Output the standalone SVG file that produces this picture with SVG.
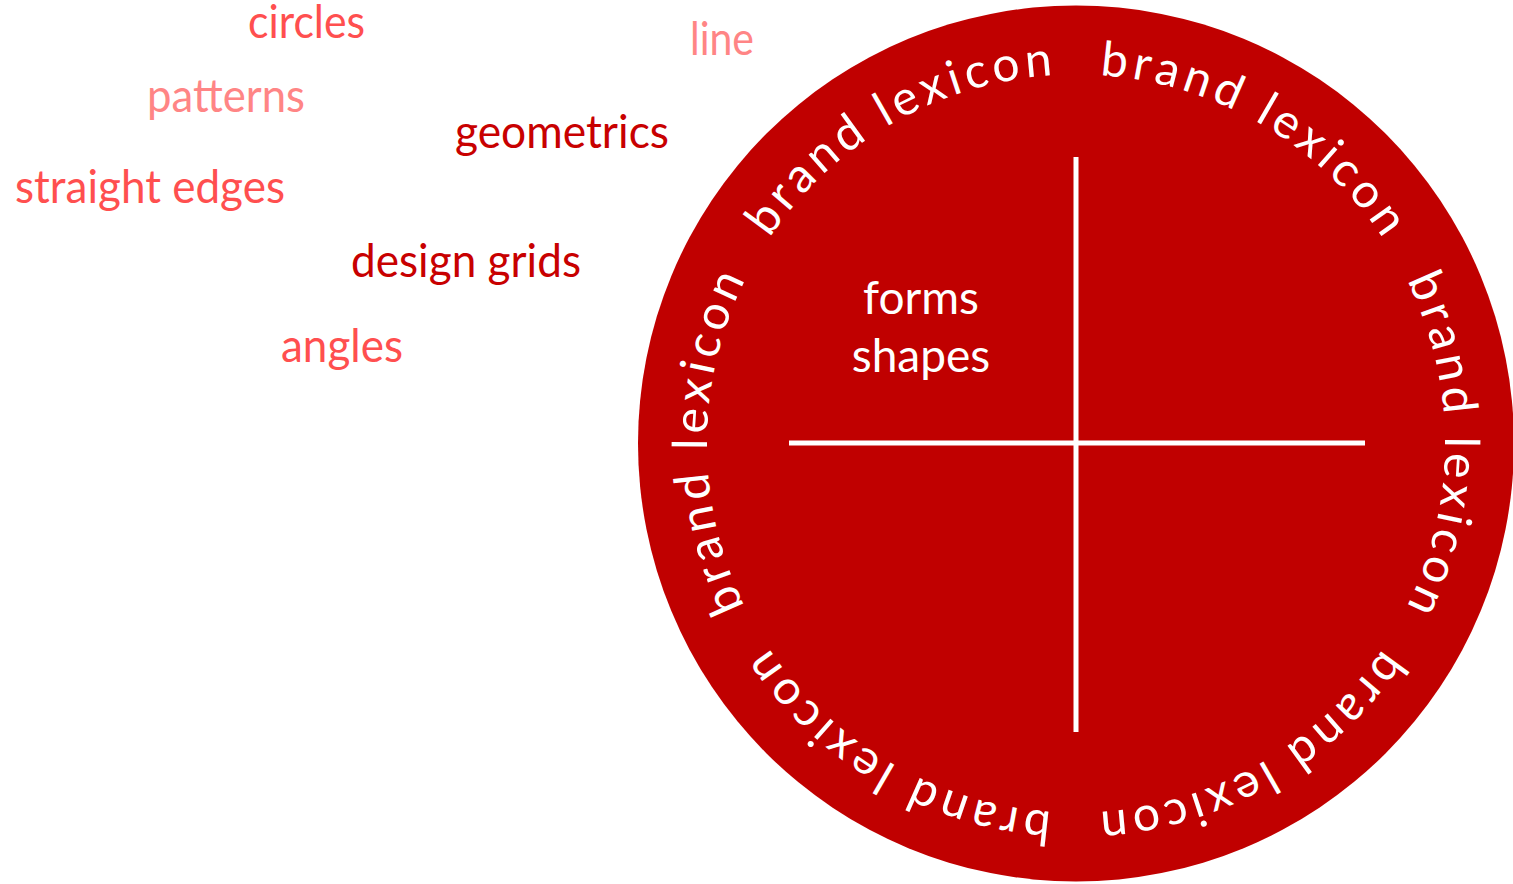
<svg xmlns="http://www.w3.org/2000/svg" xmlns:xlink="http://www.w3.org/1999/xlink" width="1513" height="884" viewBox="0 0 1513 884">
<style>
.w{font-family:Lato,"Open Sans","Liberation Sans",sans-serif;font-size:47px}
.c1{fill:#FF4F4F}
.c2{fill:#FF8585}
.c3{fill:#C80000}
.ring{font-family:Lato,"Noto Sans","DejaVu Sans",sans-serif;font-size:48px;fill:#FFFFFF;letter-spacing:4.7px}
.inner{font-family:Lato,"Open Sans","Liberation Sans",sans-serif;font-size:46px;fill:#FFFFFF;text-anchor:middle}
.bar{stroke:#FFFFFF;stroke-width:5;fill:none}
</style>
<defs>
<path id="ringPath" d="M 1076 74.5 A 369 369 0 1 1 1076 812.5 A 369 369 0 1 1 1076 74.5"/>
</defs>
<rect width="1513" height="884" fill="#FFFFFF"/>
<g id="words">
<text id="t-circles" class="w c1" x="248" y="38" textLength="117" lengthAdjust="spacingAndGlyphs">circles</text>
<text id="t-line" class="w c2" x="690" y="55" textLength="64" lengthAdjust="spacingAndGlyphs">line</text>
<text id="t-patterns" class="w c2" x="147" y="112" textLength="158" lengthAdjust="spacingAndGlyphs">patterns</text>
<text id="t-geometrics" class="w c3" x="455" y="148" textLength="214" lengthAdjust="spacingAndGlyphs">geometrics</text>
<text id="t-straight" class="w c1" x="15" y="203" textLength="270" lengthAdjust="spacingAndGlyphs">straight edges</text>
<text id="t-design" class="w c3" x="351" y="277" textLength="230" lengthAdjust="spacingAndGlyphs">design grids</text>
<text id="t-angles" class="w c1" x="281" y="362" textLength="122" lengthAdjust="spacingAndGlyphs">angles</text>
</g>
<g id="wheel">
<circle cx="1076" cy="443.5" r="438" fill="#C00000"/>
<g id="ring-text" class="ring" text-anchor="middle">
<text><textPath xlink:href="#ringPath" href="#ringPath" startOffset="195.5">brand lexicon</textPath></text>
<text><textPath xlink:href="#ringPath" href="#ringPath" startOffset="581.9">brand lexicon</textPath></text>
<text><textPath xlink:href="#ringPath" href="#ringPath" startOffset="968.3">brand lexicon</textPath></text>
<text><textPath xlink:href="#ringPath" href="#ringPath" startOffset="1354.8">brand lexicon</textPath></text>
<text><textPath xlink:href="#ringPath" href="#ringPath" startOffset="1741.2">brand lexicon</textPath></text>
<text><textPath xlink:href="#ringPath" href="#ringPath" startOffset="2127.6">brand lexicon</textPath></text>
</g>
</g>
<g id="connectors">
<line class="bar" x1="1076" y1="157" x2="1076" y2="732"/>
<line class="bar" x1="789" y1="443" x2="1365" y2="443"/>
</g>
<g id="center-label">
<text class="inner" x="921" y="314">forms</text>
<text class="inner" x="921" y="372">shapes</text>
</g>
</svg>
